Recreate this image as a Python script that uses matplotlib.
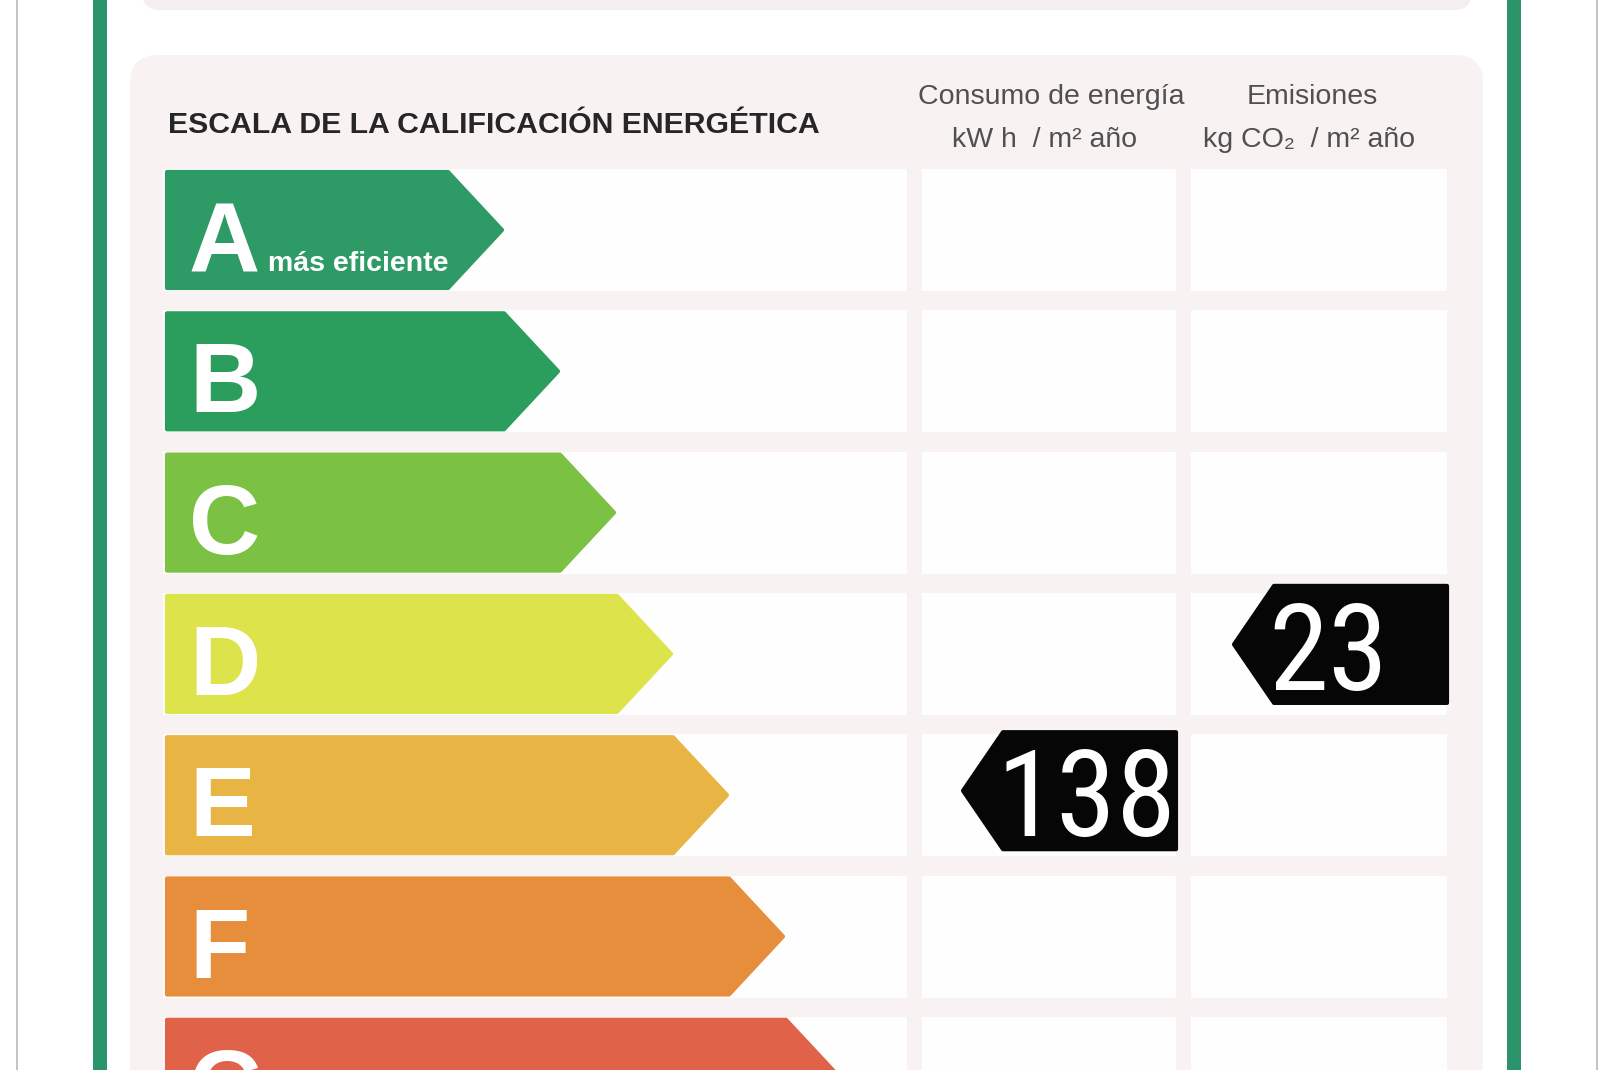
import matplotlib
matplotlib.use("Agg")
import matplotlib.pyplot as plt
from matplotlib import font_manager
from matplotlib.patches import Rectangle, Polygon, FancyBboxPatch

# data
ratings = ["A", "B", "C", "D", "E", "F", "G"]
bar_colors = ["#2e9a66", "#2b9e5e", "#7bc143", "#dde34a", "#e8b545", "#e68e3b", "#df6249"]
bar_ends = [502, 558, 614, 671, 727, 783, 840]   # tip x of each arrow
consumo_rating = "E"
consumo_value = 138
emisiones_rating = "D"
emisiones_value = 23

title = "ESCALA DE LA CALIFICACIÓN ENERGÉTICA"
col1_header = ["Consumo de energía", "kW h  / m² año"]
col2_header = ["Emisiones", "kg CO₂  / m² año"]

# narrow font for the big numbers, if there is one
names = {f.name for f in font_manager.fontManager.ttflist}
num_font = "Liberation Sans"
num_stretch = "normal"
for cand in ["Liberation Sans Narrow", "Roboto Condensed", "Open Sans Condensed", "Noto Sans Condensed"]:
    if cand in names:
        num_font = cand
        break
else:
    cond = [f for f in font_manager.fontManager.ttflist
            if f.name == "DejaVu Sans" and f.stretch == "condensed"]
    if cond:
        num_font = "DejaVu Sans"
        num_stretch = "condensed"

W, H = 1606, 1070
fig = plt.figure(figsize=(W / 100, H / 100), dpi=100)
ax = fig.add_axes([0, 0, 1, 1])
ax.set_xlim(0, W)
ax.set_ylim(H, 0)
ax.axis("off")
fig.patch.set_facecolor("white")

# outer lines
for x in [17, 1597]:
    ax.add_patch(Rectangle((x - 1, 0), 2, H, color="#c4c4c4", lw=0))
for x in [93, 1507]:
    ax.add_patch(Rectangle((x, 0), 14, H, color="#2b936a", lw=0))

# panels
ax.add_patch(FancyBboxPatch((142, -60), 1330, 70, boxstyle="round,pad=0,rounding_size=18",
                            fc="#f4efef", ec="none"))
ax.add_patch(FancyBboxPatch((130, 55), 1353, 1100, boxstyle="round,pad=0,rounding_size=28",
                            fc="#f8f2f2", ec="none"))

row_top0 = 172
row_step = 141.3
bar_h = 116
bar_x0 = 167
tip = 54

cells = [(163, 907), (922, 1176), (1191, 1447)]

for i, (r, c, xe) in enumerate(zip(ratings, bar_colors, bar_ends)):
    top = row_top0 + i * row_step
    bot = top + bar_h
    mid = (top + bot) / 2
    for (a, b) in cells:
        ax.add_patch(Rectangle((a, top - 3), b - a, bar_h + 6, fc="#fefefe", ec="none"))
    pts = [(bar_x0, top), (xe - tip, top), (xe, mid), (xe - tip, bot), (bar_x0, bot)]
    ax.add_patch(Polygon(pts, closed=True, fc=c, ec=c, lw=3, joinstyle="round"))
    ax.text(189, mid + 41, r, color="white", fontsize=71, fontweight="bold",
            family="Liberation Sans", ha="left", va="baseline")
    if i == 0:
        ax.text(268, mid + 41, "más eficiente", color="white", fontsize=20.5,
                fontweight="bold", family="Liberation Sans", ha="left", va="baseline")

# headers
ax.text(168, 133, title, fontsize=21.8, fontweight="bold", color="#262626",
        family="Liberation Sans", ha="left", va="baseline")
fam = ["Liberation Sans", "DejaVu Sans"]
ax.text(1051, 104, col1_header[0], fontsize=20.5, color="#505050", family=fam,
        ha="center", va="baseline")
ax.text(1045, 147, col1_header[1], fontsize=20.5, color="#505050", family=fam,
        ha="center", va="baseline")
ax.text(1312, 104, col2_header[0], fontsize=20.5, color="#505050", family=fam,
        ha="center", va="baseline")
ax.text(1309, 147, col2_header[1], fontsize=20.5, color="#505050", family=fam,
        ha="center", va="baseline")


def marker(rating, value, cell, shift):
    i = ratings.index(rating)
    top = row_top0 + i * row_step + shift
    bot = top + 117
    mid = (top + bot) / 2
    right = cell[1]
    left = right - 213
    d = 40
    pts = [(left, mid), (left + d, top), (right, top), (right, bot), (left + d, bot)]
    ax.add_patch(Polygon(pts, closed=True, fc="#060606", ec="#060606", lw=3, joinstyle="round"))
    t = ax.text(left + 34, mid + 46, str(value), color="white", fontsize=89,
                family=num_font, stretch=num_stretch, ha="left", va="baseline")
    return t, mid


t1, m1 = marker(consumo_rating, consumo_value, cells[1], -5)
t2, m2 = marker(emisiones_rating, emisiones_value, cells[2], -10)

# shrink the numbers until "138" fits its tag
fig.canvas.draw()
w = t1.get_window_extent().width
if w > 180:
    s = 89 * 180 / w
    for t, m in [(t1, m1), (t2, m2)]:
        t.set_fontsize(s)
        t.set_y(m + 46 * s / 89)

fig.savefig("out.png", dpi=100, facecolor="white")
